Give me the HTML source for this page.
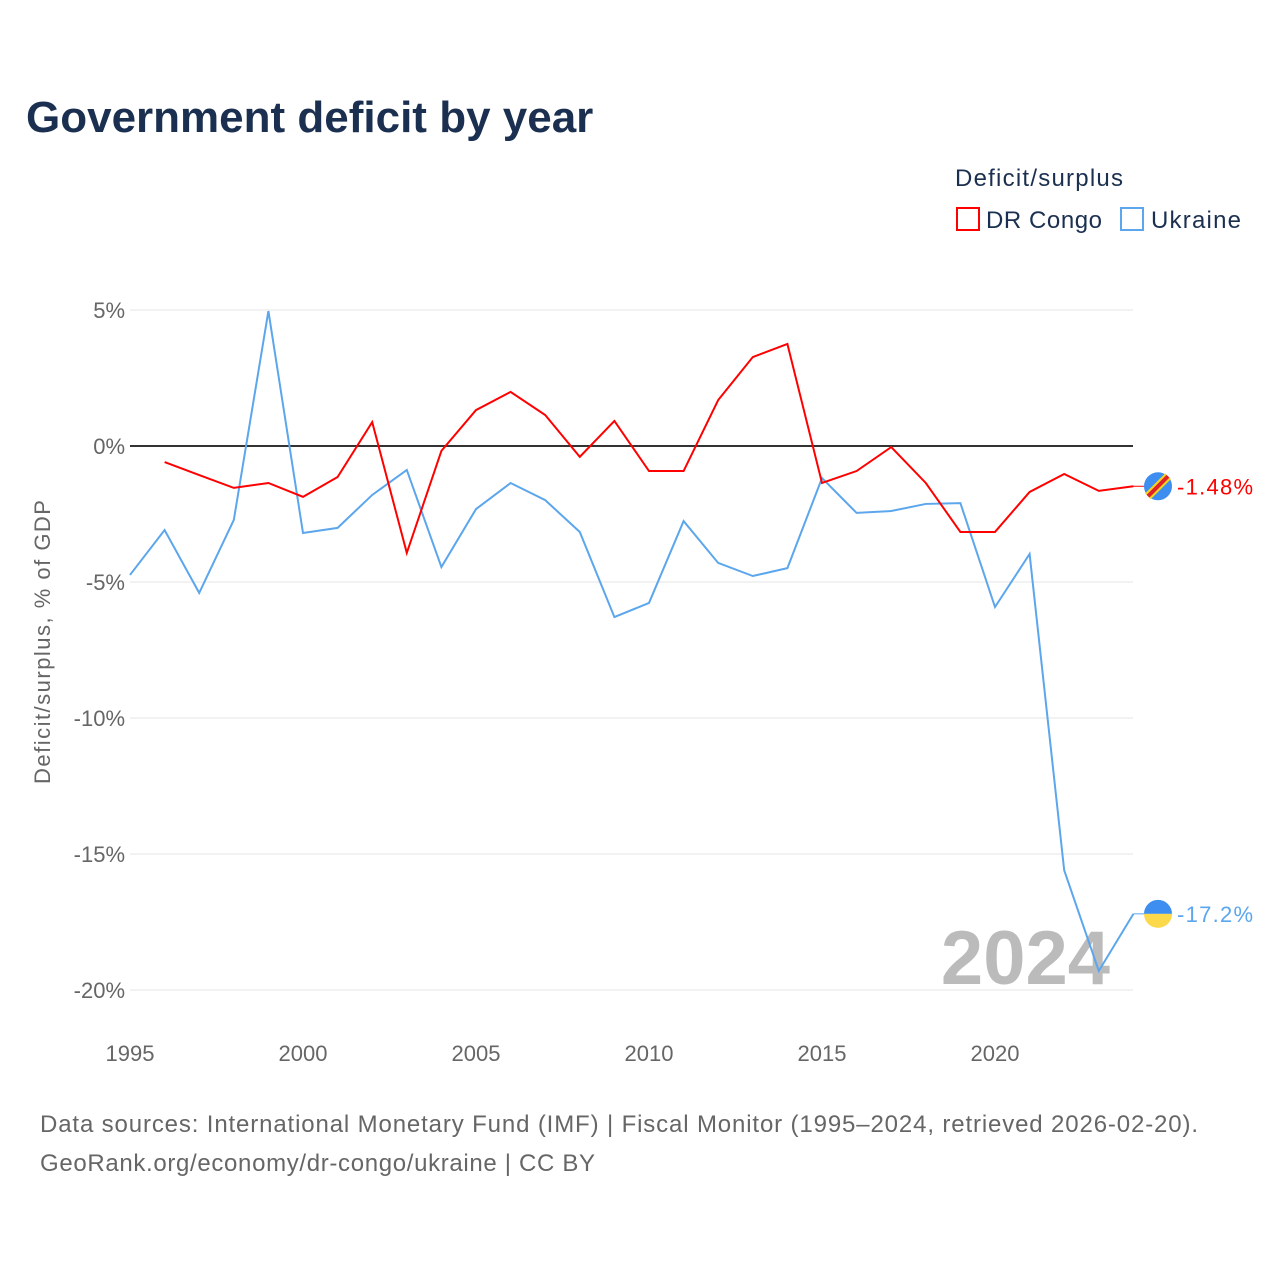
<!DOCTYPE html>
<html><head><meta charset="utf-8"><style>
body{margin:0;background:#fff;font-family:"Liberation Sans",sans-serif;}
#wrap{position:relative;width:1280px;height:1280px;overflow:hidden}
</style></head><body>
<div id="wrap">
<svg id="chart" width="1280" height="1280"></svg>
</div>
<script>
const years=[1995,1996,1997,1998,1999,2000,2001,2002,2003,2004,2005,2006,2007,2008,2009,2010,2011,2012,2013,2014,2015,2016,2017,2018,2019,2020,2021,2022,2023,2024];
const congo=[null,-0.59,-1.07,-1.54,-1.36,-1.87,-1.14,0.88,-3.93,-0.18,1.32,1.99,1.14,-0.40,0.92,-0.92,-0.92,1.69,3.27,3.75,-1.36,-0.92,-0.04,-1.36,-3.16,-3.16,-1.69,-1.03,-1.65,-1.48];
const ukraine=[-4.74,-3.09,-5.4,-2.72,4.96,-3.2,-3.01,-1.8,-0.88,-4.45,-2.32,-1.36,-1.99,-3.16,-6.29,-5.77,-2.76,-4.3,-4.78,-4.49,-1.18,-2.46,-2.39,-2.13,-2.1,-5.92,-3.97,-15.6,-19.3,-17.2];
const yTicks=[5,0,-5,-10,-15,-20];
const xTicks=[1995,2000,2005,2010,2015,2020];
const NS="http://www.w3.org/2000/svg";
const svg=document.getElementById('chart');
const x=v=>130+(v-1995)*34.6;
const y=v=>446-v*27.2;
function el(t,a,txt){const e=document.createElementNS(NS,t);for(const k in a)e.setAttribute(k,a[k]);if(txt!==undefined)e.textContent=txt;svg.appendChild(e);return e;}
let e;
e=el('text',{x:26,y:132,'font-size':44,'font-weight':'bold',fill:'#1b3050'},'Government deficit by year');

e=el('text',{x:955,y:186,'font-size':24,fill:'#1b3050',textLength:168},'Deficit/surplus');

e=el('rect',{x:957,y:208,width:22,height:22,fill:'none',stroke:'#f00','stroke-width':2});

e=el('text',{x:986,y:228,'font-size':24,fill:'#1b3050',textLength:116},'DR Congo');

e=el('rect',{x:1121,y:208,width:22,height:22,fill:'none',stroke:'#5ba6ec','stroke-width':2});

e=el('text',{x:1151,y:228,'font-size':24,fill:'#1b3050',textLength:90},'Ukraine');

yTicks.forEach(t=>{
 e=el('line',{x1:130,x2:1133,y1:y(t),y2:y(t),stroke:t===0?'#333':'#e6e6e6','stroke-width':t===0?2:1});
 
 e=el('text',{x:125,y:y(t)+8,'font-size':22,fill:'#666','text-anchor':'end'},t+'%');
 
});
xTicks.forEach(t=>{
 e=el('text',{x:x(t),y:1061,'font-size':22,fill:'#666','text-anchor':'middle'},String(t));
 
});
e=el('text',{x:0,y:0,'font-size':22,fill:'#666','text-anchor':'middle',textLength:284,transform:'translate(50,642) rotate(-90)'},'Deficit/surplus, % of GDP');

e=el('text',{x:1110,y:984,'font-size':76,'font-weight':'bold',fill:'#bbb','text-anchor':'end'},'2024');

function line(data,color,name){
 let d='';data.forEach((v,i)=>{if(v===null)return;d+=(d?'L':'M')+x(years[i])+','+y(v);});
 const p=el('path',{d:d,fill:'none',stroke:color,'stroke-width':2});
 
}
line(ukraine,'#5ba6ec','ukraine-line');
line(congo,'#f00','dr-congo-line');
function end(data,color,name,lbl){
 const v=data[data.length-1],yy=y(v),xx=x(years[years.length-1]);
 let l=el('line',{x1:xx,x2:1145,y1:yy,y2:yy,stroke:color,'stroke-width':1});
 
 l=el('text',{x:1177,y:yy+8,'font-size':22,fill:color,textLength:76},lbl);
 
 return yy;
}
let yc=end(congo,'#f00','dr-congo','-1.48%');
e=el('circle',{cx:1158,cy:yc,r:14,fill:'#3d8ef0'});

e=el('line',{x1:1148,y1:yc+10,x2:1168,y2:yc-10,stroke:'#f7d518','stroke-width':8});

e=el('line',{x1:1148,y1:yc+10,x2:1168,y2:yc-10,stroke:'#e0202a','stroke-width':4});

let yu=end(ukraine,'#5ba6ec','ukraine','-17.2%');
e=el('path',{d:`M1144,${yu} A14,14 0 0 1 1172,${yu} Z`,fill:'#3d8ef0'});

e=el('path',{d:`M1144,${yu} A14,14 0 0 0 1172,${yu} Z`,fill:'#fbd94a'});

e=el('text',{x:40,y:1132,'font-size':24,fill:'#666',textLength:1158},'Data sources: International Monetary Fund (IMF) | Fiscal Monitor (1995–2024, retrieved 2026-02-20).');

e=el('text',{x:40,y:1171,'font-size':24,fill:'#666',textLength:555},'GeoRank.org/economy/dr-congo/ukraine | CC BY');

</script></body></html>
